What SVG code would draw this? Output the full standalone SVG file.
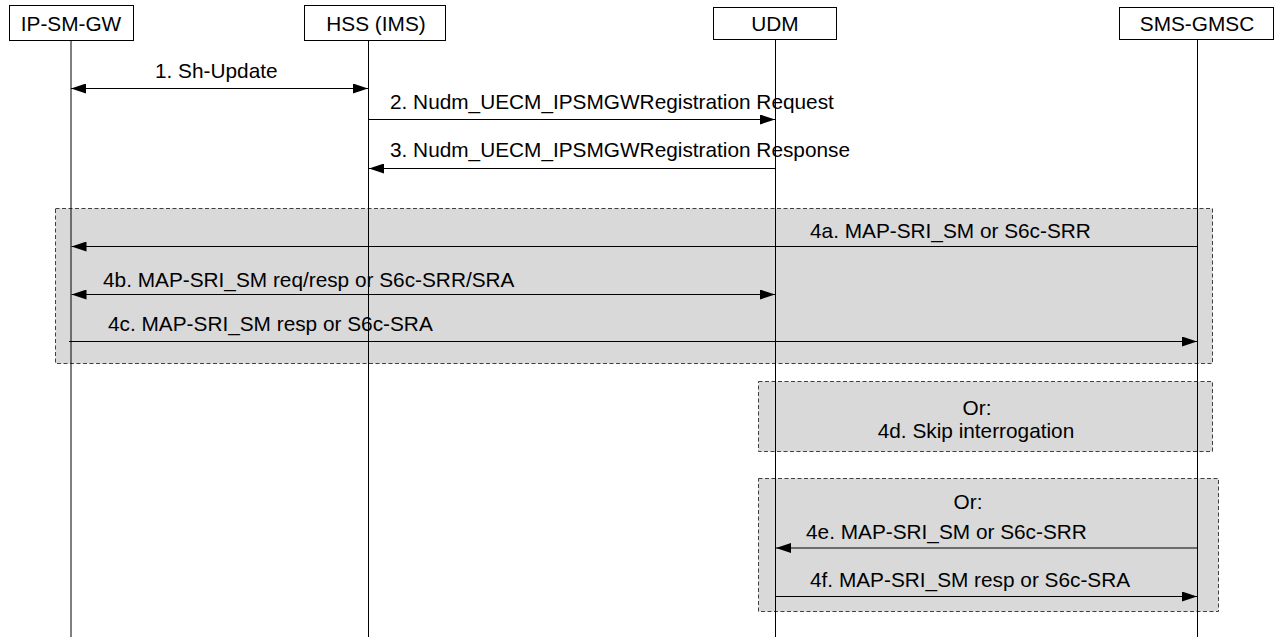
<svg xmlns="http://www.w3.org/2000/svg" width="1277" height="637" viewBox="0 0 1277 637">
<style>
text{font-family:"Liberation Sans",Arial,sans-serif;font-size:20.8px;fill:#000}
.box{fill:#fff;stroke:#000;stroke-width:1}
.life{stroke:#000;stroke-width:1;fill:none}
.frame{fill:#d9d9d9;stroke:#404040;stroke-width:1;stroke-dasharray:4 2.5}
.msg{stroke:#000;stroke-width:1.2;fill:none}
.c{text-anchor:middle}
</style>
<defs>
<marker id="ah" markerUnits="userSpaceOnUse" markerWidth="16" markerHeight="10" refX="15" refY="5" orient="auto-start-reverse">
<path d="M0,0 L15,5 L0,10 z" fill="#000"/>
</marker>
</defs>
<g id="frames">
<rect id="frame-4abc" class="frame" x="55.5" y="208.5" width="1157" height="155"/>
<rect id="frame-4d" class="frame" x="758.5" y="381.5" width="454" height="70"/>
<rect id="frame-4ef" class="frame" x="758.5" y="478.5" width="460" height="133"/>
</g>
<g id="node-ipsmgw">
<line class="life" x1="71" y1="40" x2="71" y2="637"/>
<rect class="box" x="9.5" y="5.5" width="124" height="35"/>
<text class="c" x="71" y="31">IP-SM-GW</text>
</g>
<g id="node-hss">
<line class="life" x1="368.5" y1="40" x2="368.5" y2="637"/>
<rect class="box" x="304.5" y="5.5" width="141" height="35"/>
<text class="c" x="376" y="31">HSS (IMS)</text>
</g>
<g id="node-udm">
<line class="life" x1="775.5" y1="40" x2="775.5" y2="637"/>
<rect class="box" x="713.5" y="7.5" width="123" height="32"/>
<text class="c" x="775" y="31">UDM</text>
</g>
<g id="node-smsgmsc">
<line class="life" x1="1197.5" y1="40" x2="1197.5" y2="637"/>
<rect class="box" x="1119.5" y="7.5" width="154" height="32"/>
<text class="c" x="1197" y="31">SMS-GMSC</text>
</g>
<g id="connectors">
<line class="msg" x1="71" y1="88.5" x2="368" y2="88.5" marker-start="url(#ah)" marker-end="url(#ah)"/>
<line class="msg" x1="368.5" y1="119.5" x2="775" y2="119.5" marker-end="url(#ah)"/>
<line class="msg" x1="775.5" y1="168.5" x2="369" y2="168.5" marker-end="url(#ah)"/>
<line class="msg" x1="1197.5" y1="246.5" x2="71.5" y2="246.5" marker-end="url(#ah)"/>
<line class="msg" x1="71.5" y1="294.5" x2="775" y2="294.5" marker-start="url(#ah)" marker-end="url(#ah)"/>
<line class="msg" x1="69" y1="341.5" x2="1197" y2="341.5" marker-end="url(#ah)"/>
<line class="msg" x1="1197.5" y1="548" x2="776" y2="548" marker-end="url(#ah)"/>
<line class="msg" x1="775.5" y1="596.5" x2="1197" y2="596.5" marker-end="url(#ah)"/>
</g>
<g id="labels">
<text x="155" y="78">1. Sh-Update</text>
<text x="390" y="109">2. Nudm_UECM_IPSMGWRegistration Request</text>
<text x="390" y="157">3. Nudm_UECM_IPSMGWRegistration Response</text>
<text x="810" y="238">4a. MAP-SRI_SM or S6c-SRR</text>
<text x="103" y="287">4b. MAP-SRI_SM req/resp or S6c-SRR/SRA</text>
<text x="108" y="331">4c. MAP-SRI_SM resp or S6c-SRA</text>
<text class="c" x="977" y="415">Or:</text>
<text class="c" x="976" y="438">4d. Skip interrogation</text>
<text class="c" x="968" y="509">Or:</text>
<text x="806" y="539">4e. MAP-SRI_SM or S6c-SRR</text>
<text x="810" y="587">4f. MAP-SRI_SM resp or S6c-SRA</text>
</g>
</svg>
